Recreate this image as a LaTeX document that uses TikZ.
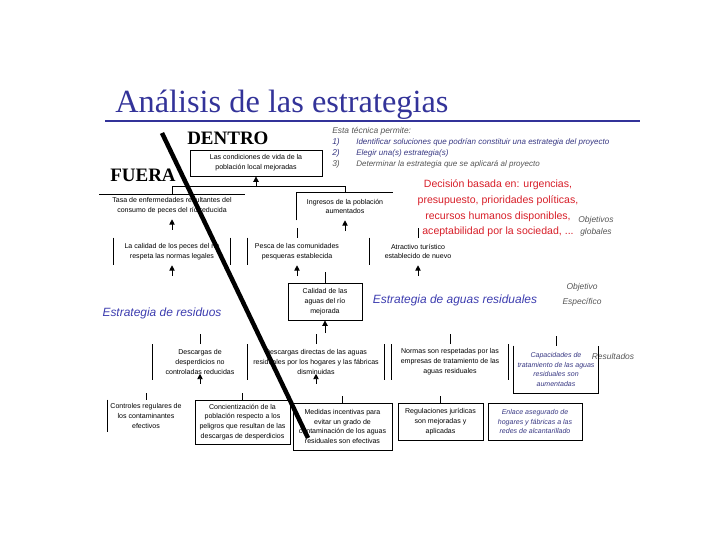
\documentclass[tikz,border=0pt]{standalone}
\usepackage{fontspec}
\setmainfont{Liberation Sans}
\newfontfamily\titlefont{Liberation Serif}
\usetikzlibrary{arrows.meta,positioning,calc}
\definecolor{titleblue}{RGB}{51,51,153}
\definecolor{stratblue}{RGB}{60,60,175}
\definecolor{notegray}{RGB}{85,85,85}
\definecolor{itemblue}{RGB}{55,55,130}
\definecolor{decred}{RGB}{215,30,40}

\begin{document}
\begin{tikzpicture}[x=0.025cm, y=-0.025cm,
    lbox/.style={font=\fontsize{5}{7}\selectfont, align=center, inner sep=0pt},
    fbox/.style={lbox, draw, line width=0.6pt},
    bluetxt/.style={text=itemblue, font=\fontsize{5}{7}\selectfont\itshape},
    uparr/.style={-{Triangle[width=3.8pt,length=3.8pt]}, line width=0.6pt},
    tick/.style={line width=0.6pt},
    note/.style={text=notegray, font=\fontsize{6}{8.5}\selectfont\itshape, align=center},
    strat/.style={text=stratblue, font=\fontsize{8.5}{10}\selectfont\itshape}]
    \useasboundingbox (0,0) rectangle (720,540);
    % title
    \node[anchor=base west, text=titleblue, font=\titlefont\fontsize{23}{26}\selectfont, inner sep=0pt] (title) at (115,112) {Análisis de las estrategias};
    \coordinate (ruleL) at (105,121);
    \coordinate (ruleR) at (640,121);
    \draw[titleblue, line width=1.8pt] (ruleL) -- (ruleR);
    \node[anchor=base west, font=\titlefont\bfseries\fontsize{13.5}{15}\selectfont, inner sep=0pt] (dentro) at (187,144) {DENTRO};
    \node[anchor=base west, font=\titlefont\bfseries\fontsize{13.5}{15}\selectfont, inner sep=0pt] (fuera) at (110,181) {FUERA};
    % what the technique allows
    \node[anchor=base west, text=notegray, font=\fontsize{6}{7}\selectfont\itshape, inner sep=0pt] (intro) at (332,133) {Esta técnica permite:};
    \node[anchor=base west, text=itemblue, font=\fontsize{6}{7}\selectfont\itshape, inner sep=0pt] (n1) at (332,144) {1)};
    \node[anchor=base west, text=itemblue, font=\fontsize{6}{7}\selectfont\itshape, inner sep=0pt] (n2) at (332,155) {2)};
    \node[anchor=base west, text=notegray, font=\fontsize{6}{7}\selectfont\itshape, inner sep=0pt] (n3) at (332,166) {3)};
    \node[anchor=base west, text=itemblue, font=\fontsize{5.7}{7}\selectfont\itshape, inner sep=0pt] (i1) at (356,144) {Identificar soluciones que podrían constituir una estrategia del proyecto};
    \node[anchor=base west, text=itemblue, font=\fontsize{5.7}{7}\selectfont\itshape, inner sep=0pt] (i2) at (356,155) {Elegir una(s) estrategia(s)};
    \node[anchor=base west, text=notegray, font=\fontsize{5.7}{7}\selectfont\itshape, inner sep=0pt] (i3) at (356,166) {Determinar la estrategia que se aplicará al proyecto};
    \node[text=decred, font=\fontsize{7.5}{11.1}\selectfont, align=center, inner sep=0pt] (decision) at (498,208.5) {Decisión basada en: urgencias,\\presupuesto, prioridades políticas,\\recursos humanos disponibles,\\aceptabilidad por la sociedad, ...};
    % side labels
    \node[note] (globales) at (596,226) {Objetivos\\globales};
    \node[note, font=\fontsize{6}{10.6}\selectfont\itshape] (especifico) at (582,294.5) {Objetivo\\Específico};
    \node[note] (resultados) at (613,356) {Resultados};
    \node[strat] (aguas) at (455,300) {Estrategia de aguas residuales};
    \node[strat] (residuos) at (162,313) {Estrategia de residuos};
    % global objectives
    \node[fbox, minimum width=3.3cm, minimum height=0.65cm] (vida) at (256,163) {Las condiciones de vida de la\\población local mejoradas};
    \node[lbox, minimum width=3.625cm, minimum height=0.55cm] (tasa) at (172,206) {Tasa de enfermedades resultantes del\\consumo de peces del río reducida};
    \node[lbox, minimum width=2.4cm, minimum height=0.675cm] (ingresos) at (345,206.5) {Ingresos de la población\\aumentados};
    \node[lbox, minimum width=2.925cm, minimum height=0.675cm] (calidad) at (172,251.5) {La calidad de los peces del río\\respeta las normas legales};
    \node[lbox, minimum width=2.45cm, minimum height=0.675cm] (pesca) at (297,251.5) {Pesca de las comunidades\\pesqueras establecida};
    \node[lbox, minimum width=2.4cm, minimum height=0.675cm] (turismo) at (418,251.5) {Atractivo turístico\\establecido de nuevo};
    % specific objective
    \node[fbox, minimum width=1.85cm, minimum height=0.925cm] (rio) at (325,301.5) {Calidad de las\\aguas del río\\mejorada};
    % results
    \node[lbox, minimum width=2.375cm, minimum height=0.875cm] (descargas) at (200,362) {Descargas de\\desperdicios no\\controladas reducidas};
    \node[lbox, minimum width=3.4cm, minimum height=0.875cm] (directas) at (316,362) {Descargas directas de las aguas\\residuales por los hogares y las fábricas\\disminuidas};
    \node[lbox, minimum width=2.9cm, minimum height=0.875cm] (normas) at (450,362) {Normas son respetadas por las\\empresas de tratamiento de las\\aguas residuales};
    \node[lbox, bluetxt, minimum width=2.125cm, minimum height=1.175cm] (capacidad) at (556,369.5) {Capacidades de\\tratamiento de las aguas\\residuales son\\aumentadas};
    % activities
    \node[lbox, minimum width=1.9cm, minimum height=0.8cm] (controles) at (146,416) {Controles regulares de\\los contaminantes\\efectivos};
    \node[fbox, minimum width=2.375cm, minimum height=1.1cm] (concienc) at (242.5,422) {Concientización de la\\población respecto a los\\peligros que resultan de las\\descargas de desperdicios};
    \node[fbox, minimum width=2.475cm, minimum height=1.175cm] (medidas) at (342.5,426.5) {Medidas incentivas para\\evitar un grado de\\contaminación de los aguas\\residuales son efectivas};
    \node[fbox, minimum width=2.125cm, minimum height=0.925cm] (regul) at (440.5,421.5) {Regulaciones jurídicas\\son mejoradas y\\aplicadas};
    \node[fbox, bluetxt, minimum width=2.35cm, minimum height=0.925cm] (enlace) at (535,421.5) {Enlace asegurado de\\hogares y fábricas a las\\redes de alcantarillado};
    % open box borders
    \begin{scope}[line width=0.6pt]
      \draw (tasa.north west) -- (tasa.north east);
      \draw (ingresos.south west) -- (ingresos.north west) -- (ingresos.north east);
      \draw (calidad.north west) -- (calidad.south west);
      \draw (calidad.north east) -- (calidad.south east);
      \draw (pesca.north west) -- (pesca.south west);
      \draw (turismo.north west) -- (turismo.south west);
      \draw (descargas.north west) -- (descargas.south west);
      \draw (descargas.north east) -- (descargas.south east);
      \draw (directas.north east) -- (directas.south east);
      \draw (normas.north west) -- (normas.south west);
      \draw (normas.north east) -- (normas.south east);
      \draw (capacidad.north west) -- (capacidad.south west) -- (capacidad.south east) -- (capacidad.north east);
      \draw (controles.north west) -- (controles.south west);
    \end{scope}
    % connectors
    \draw[tick] (tasa.north) -- ++(0,-8) -| (ingresos.north);
    \draw[uparr] (vida.south |- 0,187) -- (vida.south);
    \draw[uparr, shorten <=0.2cm, shorten >=0.05cm] (calidad.north) -- (tasa.south);
    \draw[uparr] (ingresos.south |- 0,231) -- (ingresos.south);
    \draw[tick] (pesca.north) -- ++(0,-10);
    \draw[tick] (turismo.north) -- ++(0,-10);
    \foreach \n in {calidad,pesca,turismo}
      \draw[uparr] (\n.south |- 0,276) -- (\n.south);
    \draw[tick] (rio.north) -- ++(0,-11);
    \draw[uparr] (rio.south |- 0,333) -- (rio.south);
    \foreach \n in {descargas,directas,normas,capacidad}
      \draw[tick] (\n.north) -- ++(0,-10);
    \foreach \n in {descargas,directas}
      \draw[uparr] (\n.south) ++(0,4) -- ++(0,-10);
    \foreach \n in {controles,concienc,medidas,regul}
      \draw[tick] (\n.north) -- ++(0,-7);
    % inside / outside cut
    \coordinate (cutTop) at (162,133);
    \coordinate (cutEnd) at (308,438);
    \draw[line width=3.2pt] (cutTop) -- (cutEnd);
\end{tikzpicture}
\end{document}
